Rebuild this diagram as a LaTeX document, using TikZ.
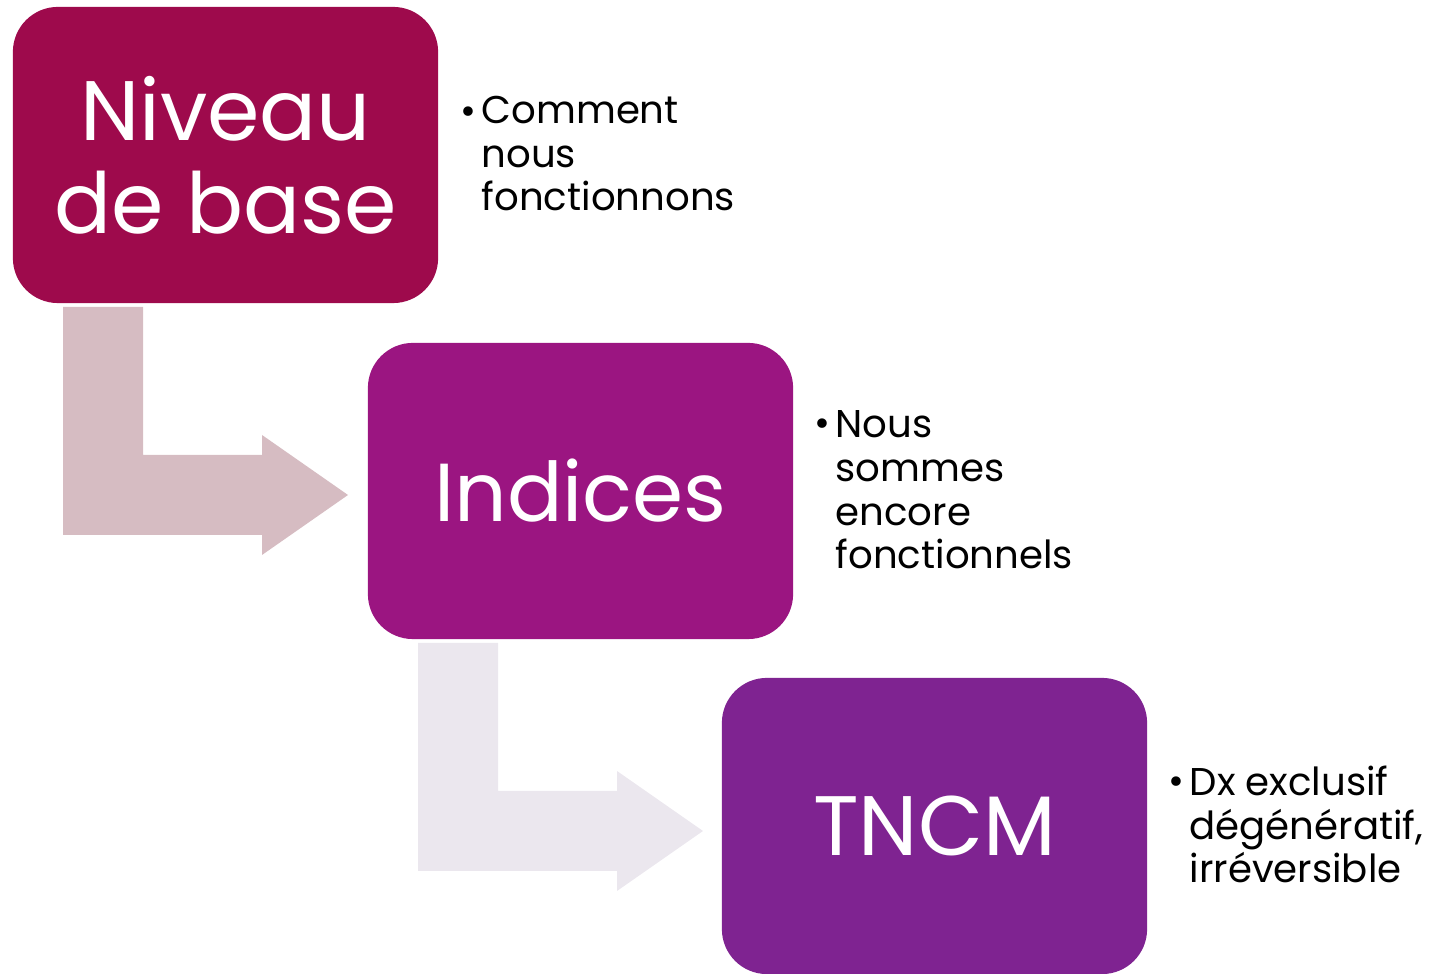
\documentclass[tikz,border=0pt]{standalone}
\usepackage{fontspec}
\setmainfont{Poppins}
\definecolor{cA}{HTML}{9E0A4C}
\definecolor{cB}{HTML}{9B1581}
\definecolor{cC}{HTML}{7F2391}
\definecolor{arA}{HTML}{D6BCC2}
\definecolor{arB}{HTML}{EBE7EE}
\tikzset{
  box/.style={rounded corners=0.45cm, minimum width=4.25cm, minimum height=2.96cm, inner sep=0pt,
    text=white, align=center, font=\fontsize{24}{26.5}\selectfont},
  desc/.style={inner sep=0pt, align=left, font=\fontsize{11}{12.5}\selectfont},
  bul/.style={inner sep=0pt, font=\fontsize{11}{12.5}\selectfont}
}
\begin{document}
\begin{tikzpicture}[x=0.01cm,y=-0.01cm]
\useasboundingbox (0,0) rectangle (1435,974);
% bent arrows
\fill[arA] (63,307) -- (143,307) -- (143,455) -- (262,455) -- (262,435) -- (348,495) -- (262,555) -- (262,535) -- (63,535) -- cycle;
\fill[arB] (418,643) -- (498,643) -- (498,791) -- (617,791) -- (617,771) -- (703,831) -- (617,891) -- (617,871) -- (418,871) -- cycle;
% boxes
\node[box, fill=cA] (b1) at (225.5,155) {Niveau\\de base};
\node[box, fill=cB] (b2) at (580.5,491) {\fontsize{23.4}{26.5}\selectfont Indices};
\node[box, fill=cC] (b3) at (934.5,826) {TNCM};
% descriptions
\node[bul, anchor=base east] (u1) at (477,125) {•};
\node[desc, anchor=base west] (t1) at (481,211) {Comment\\nous\\fonctionnons};
\node[bul, anchor=base east] (u2) at (831,437) {•};
\node[desc, anchor=base west] (t2) at (835,569) {Nous\\sommes\\encore\\fonctionnels};
\node[bul, anchor=base east] (u3) at (1185,795) {•};
\node[desc, anchor=base west] (t3) at (1189,883) {Dx exclusif\\dégénératif,\\irréversible};
\end{tikzpicture}
\end{document}
